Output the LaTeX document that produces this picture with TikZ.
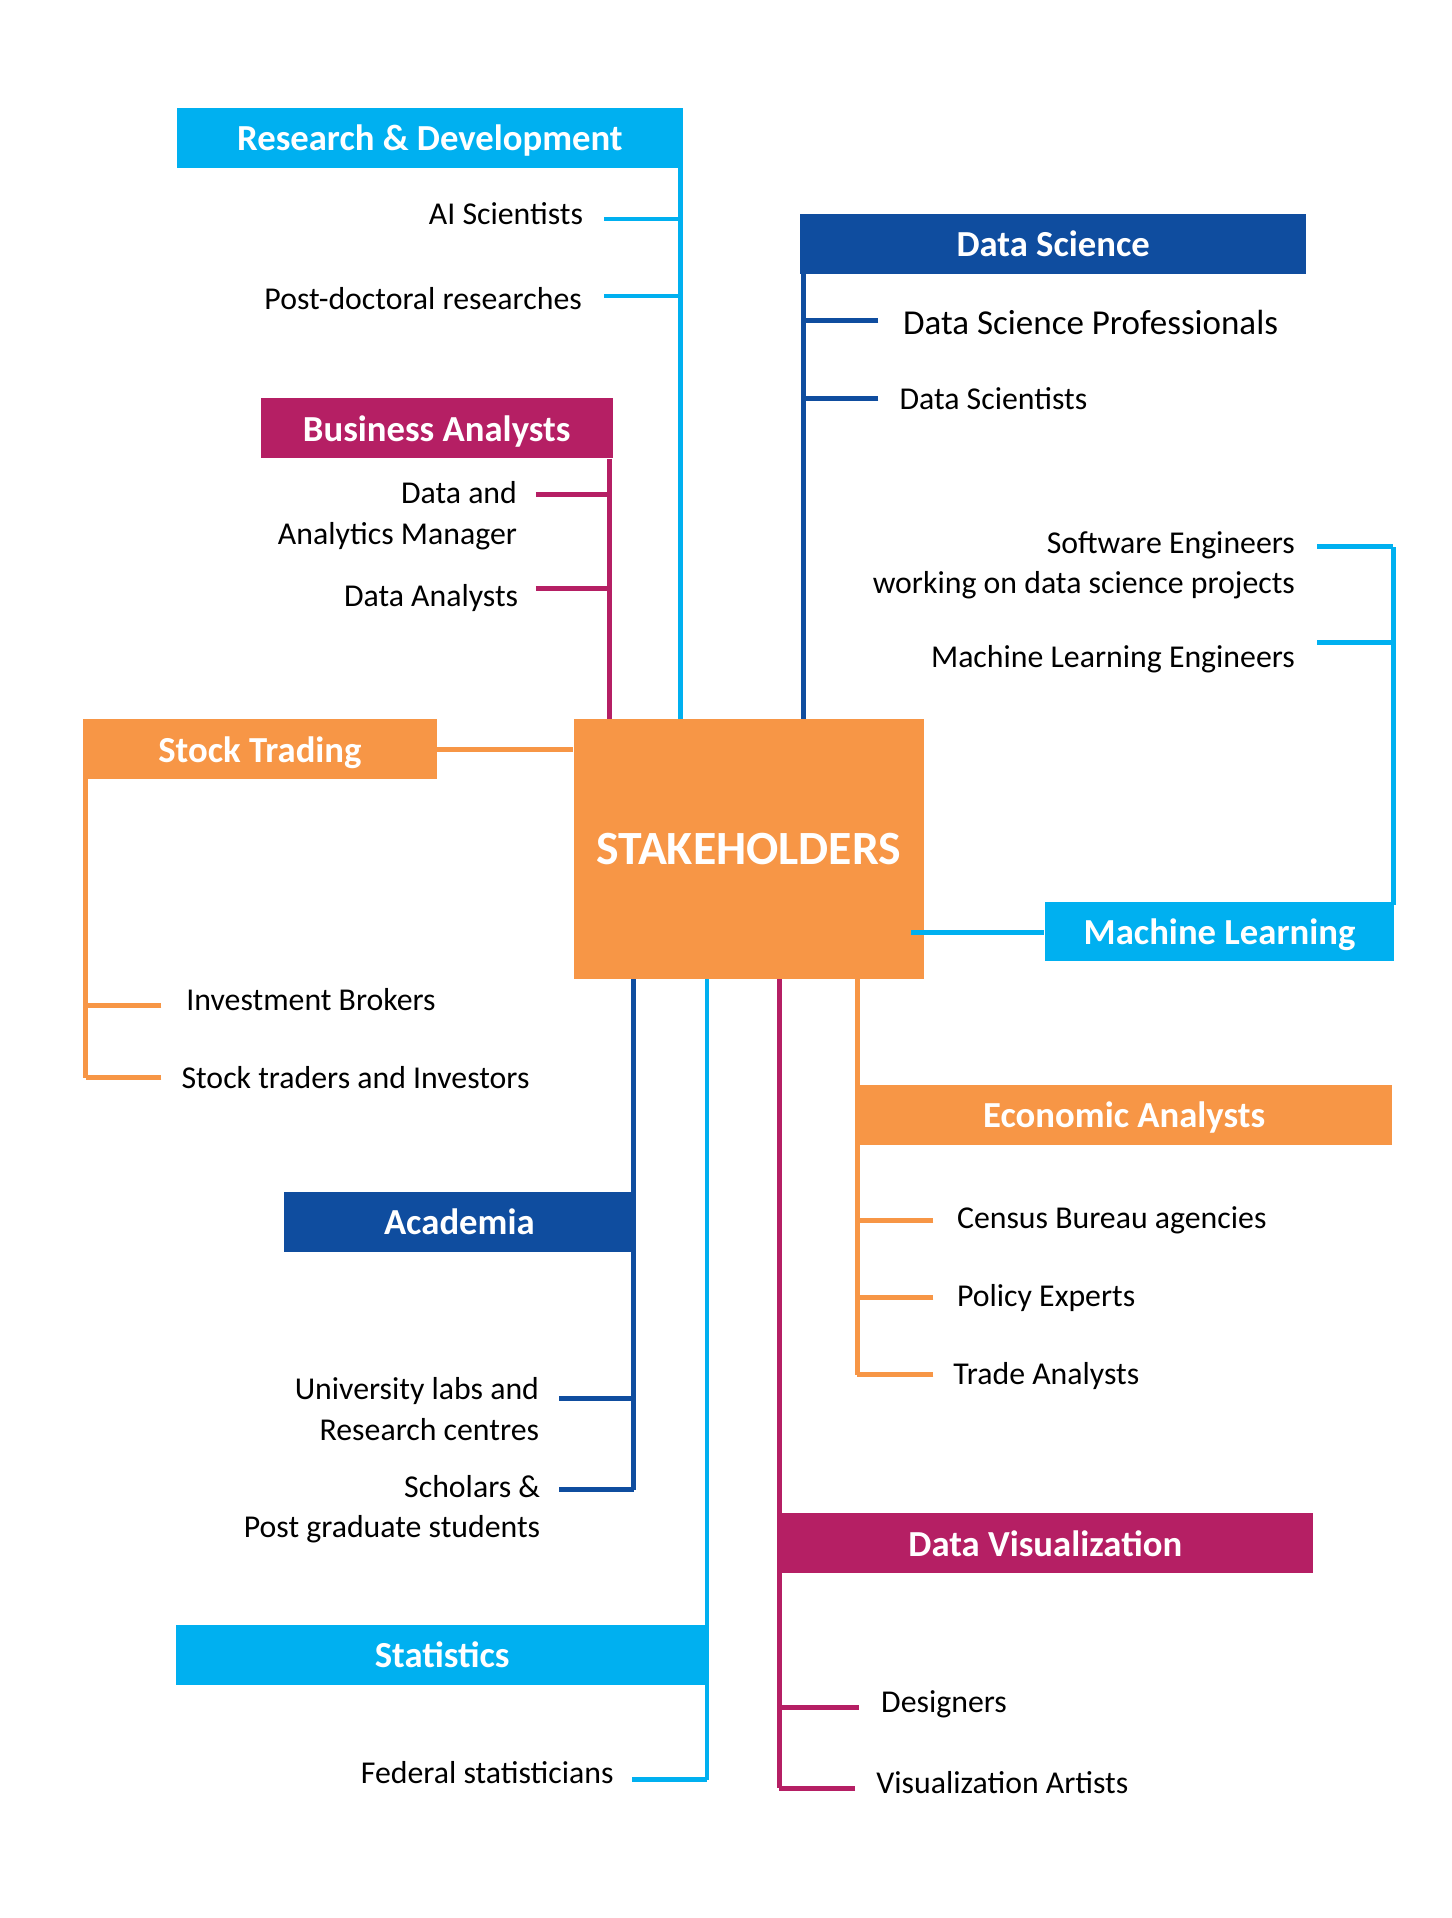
\documentclass[tikz,border=0pt]{standalone}
\usepackage{fontspec}
\setmainfont{Carlito}
\definecolor{skyC}{HTML}{00B0F0}
\definecolor{navyC}{HTML}{0F4D9F}
\definecolor{plumC}{HTML}{B51F64}
\definecolor{peachC}{HTML}{F79646}
\tikzset{head/.style={rectangle, fill=#1, text=white, inner sep=0pt, text depth=0pt,
           minimum height=24.5pt, font=\bfseries\fontsize{15}{18}\selectfont},
         item/.style={inner sep=0pt, font=\fontsize{13}{16.5}\selectfont},
         wire/.style={draw=#1, line width=2pt}}

\begin{document}
\begin{tikzpicture}[x=0.5pt, y=-0.5pt]
    \useasboundingbox (0,0) rectangle (1187,1568);

    \coordinate (rdT) at (556,137);
    \coordinate (baT) at (498,375);
    \coordinate (dsT) at (657,224);
    \coordinate (stT) at (70,637);
    \coordinate (mlT) at (1139,740);
    \coordinate (acT) at (518,800);
    \coordinate (statT) at (578,800);
    \coordinate (dvT) at (637,800);
    \coordinate (eaT) at (701,800);

    % trunks
    \draw[wire=skyC] (rdT) -- (556,588);
    \draw[wire=plumC] (baT) -- (498,588);
    \draw[wire=navyC] (dsT) -- (657,588);
    \draw[wire=peachC] (stT) -- (70,881);
    \draw[wire=skyC] (mlT) -- (1139,447);
    \draw[wire=navyC] (acT) -- (518,1218);
    \draw[wire=skyC] (statT) -- (578,1455);
    \draw[wire=plumC] (dvT) -- (637,1462);
    \draw[wire=peachC] (eaT) -- (701,1124);

    \node[head=skyC, minimum width=206.5pt] (rd) at (351.5,112.5) {Research \& Development};
    \node[head=plumC, minimum width=144pt] (ba) at (357,350) {Business Analysts};
    \node[head=navyC, minimum width=207pt] (ds) at (861,199.5) {Data Science};
    \node[head=peachC, minimum width=144.5pt] (st) at (212.5,612.5) {Stock Trading};
    \node[head=skyC, minimum width=143pt] (ml) at (997,761.5) {Machine Learning};
    \node[head=navyC, minimum width=143.5pt] (ac) at (375.5,999) {Academia};
    \node[head=skyC, minimum width=217.5pt] (stat) at (361.5,1353) {Statistics};
    \node[head=plumC, minimum width=218.5pt] (dv) at (854.5,1261.5) {Data Visualization};
    \node[head=peachC, minimum width=219pt] (ea) at (919,911.5) {Economic Analysts};

    \node[rectangle, fill=peachC, text=white, minimum width=143pt, minimum height=106pt,
          font=\bfseries\fontsize{19.5}{22}\selectfont] (hub) at (612,694) {STAKEHOLDERS};

    \draw[wire=peachC] (st) -- (st -| hub.west);
    \draw[wire=skyC] (745,762) coordinate (mlS) -- (mlS -| ml.west);

    % leaves
    \node[item, anchor=east] (ai) at (477,175) {AI Scientists};
    \node[item, anchor=east] (pd) at (476,244) {Post-doctoral researches};
    \node[item, anchor=east, align=right] (dam) at (423,421.5) {Data and\\Analytics Manager};
    \node[item, anchor=east] (dan) at (424,489) {Data Analysts};
    \node[item, anchor=west, font=\fontsize{14.3}{17}\selectfont] (dsp) at (738,264) {Data Science Professionals};
    \node[item, anchor=west] (dsc) at (735,326) {Data Scientists};
    \node[item, anchor=east, align=right] (swe) at (1059,462) {Software Engineers\\working on data science projects};
    \node[item, anchor=east] (mle) at (1059,539) {Machine Learning Engineers};
    \node[item, anchor=west] (ib) at (152,817) {Investment Brokers};
    \node[item, anchor=west] (sti) at (148,881) {Stock traders and Investors};
    \node[item, anchor=east, align=right] (ul) at (441,1152) {University labs and\\Research centres};
    \node[item, anchor=east, align=right] (sch) at (442,1234) {Scholars \&\\Post graduate students};
    \node[item, anchor=east] (fs) at (502,1449) {Federal statisticians};
    \node[item, anchor=west] (des) at (720,1393) {Designers};
    \node[item, anchor=west] (va) at (716,1457) {Visualization Artists};
    \node[item, anchor=west] (cb) at (782,998) {Census Bureau agencies};
    \node[item, anchor=west] (pe) at (782,1061) {Policy Experts};
    \node[item, anchor=west] (ta) at (779,1125) {Trade Analysts};

    \coordinate (ai-c) at (494,179);
    \coordinate (pd-c) at (494,242);
    \coordinate (dam-c) at (438,404);
    \coordinate (dan-c) at (438,481);
    \coordinate (dsp-c) at (718,262);
    \coordinate (dsc-c) at (718,326);
    \coordinate (swe-c) at (1077,447);
    \coordinate (mle-c) at (1077,525);
    \coordinate (ib-c) at (132,822);
    \coordinate (sti-c) at (132,881);
    \coordinate (ul-c) at (457,1143);
    \coordinate (sch-c) at (457,1218);
    \coordinate (fs-c) at (517,1455);
    \coordinate (des-c) at (702,1396);
    \coordinate (va-c) at (699,1462);
    \coordinate (cb-c) at (763,998);
    \coordinate (pe-c) at (763,1061);
    \coordinate (ta-c) at (763,1124);

    \foreach \c in {ai,pd} \draw[wire=skyC] (\c-c) -- (\c-c -| rdT);
    \foreach \c in {dam,dan} \draw[wire=plumC] (\c-c) -- (\c-c -| baT);
    \foreach \c in {dsp,dsc} \draw[wire=navyC] (\c-c) -- (\c-c -| dsT);
    \foreach \c in {swe,mle} \draw[wire=skyC] (\c-c) -- (\c-c -| mlT);
    \foreach \c in {ib,sti} \draw[wire=peachC] (\c-c) -- (\c-c -| stT);
    \foreach \c in {ul,sch} \draw[wire=navyC] (\c-c) -- (\c-c -| acT);
    \draw[wire=skyC] (fs-c) -- (fs-c -| statT);
    \foreach \c in {des,va} \draw[wire=plumC] (\c-c) -- (\c-c -| dvT);
    \foreach \c in {cb,pe,ta} \draw[wire=peachC] (\c-c) -- (\c-c -| eaT);
\end{tikzpicture}
\end{document}
